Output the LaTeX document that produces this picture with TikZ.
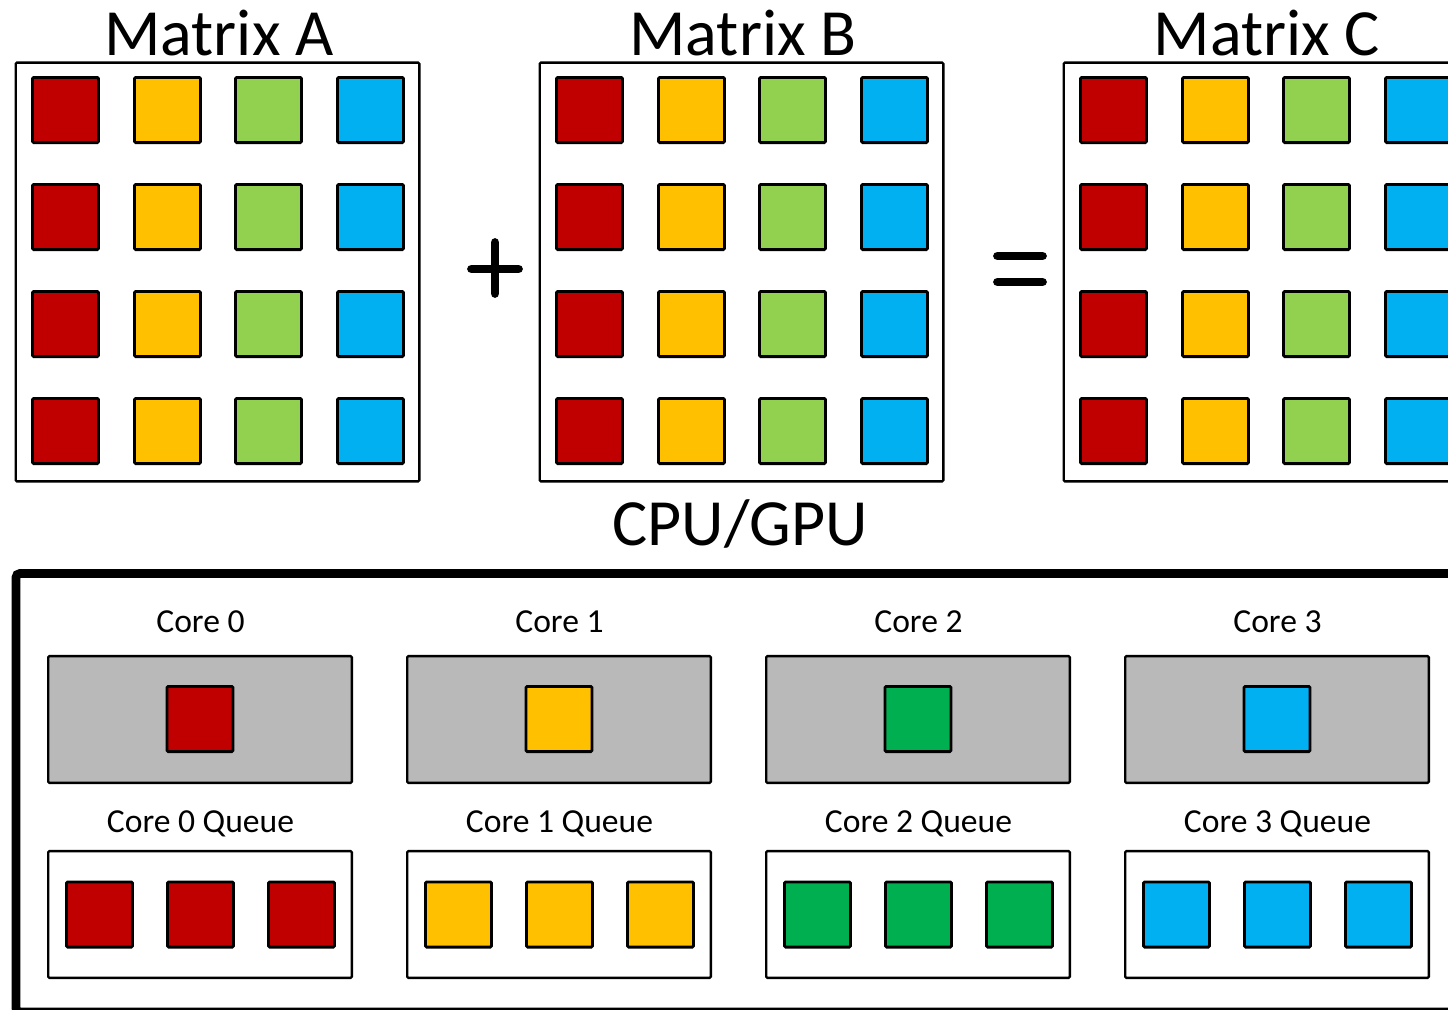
\documentclass[tikz,border=0pt]{standalone}
\usepackage{fontspec}
\setmainfont{Carlito}
\definecolor{cred}{HTML}{C00000}
\definecolor{cyellow}{HTML}{FFC000}
\definecolor{clime}{HTML}{92D050}
\definecolor{cblue}{HTML}{00B0F0}
\definecolor{cgreen}{HTML}{00B050}
\definecolor{cgray}{HTML}{B9B9B9}
\begin{document}
\begin{tikzpicture}[x=0.5pt,y=-0.5pt,
  cell/.style={draw=black, line width=1.4pt, minimum width=33pt, minimum height=32.6pt,
               inner sep=0pt, rounded corners=0.6pt},
  matframe/.style={draw=black, line width=1.2pt, minimum width=201.8pt, minimum height=209.4pt,
                   inner sep=0pt, rounded corners=0.6pt},
  corebox/.style={draw=black, line width=1.2pt, fill=cgray, minimum width=151.8pt, minimum height=63.4pt,
                  inner sep=0pt, rounded corners=0.6pt},
  queuebox/.style={draw=black, line width=1.2pt, fill=white, minimum width=151.8pt, minimum height=63.4pt,
                   inner sep=0pt, rounded corners=0.6pt},
  bigtitle/.style={font=\fontsize{33}{36}\selectfont, anchor=base, inner sep=0pt},
  corelabel/.style={font=\fontsize{16.8}{19}\selectfont, anchor=base, inner sep=0pt},
  opbar/.style={line width=4.4pt, line cap=round}
]
\useasboundingbox (0,0) rectangle (1448,1009);
\clip (0,0) rectangle (1448,1009);

% ---- the three matrices ----
\foreach \m/\off/\lab in {A/0/Matrix A, B/524/Matrix B, C/1048/Matrix C} {
  \node[matframe] (frame\m) at (217.5+\off,272) {};
  \node[bigtitle] (title\m) at (219+\off,55) {\lab};
  \foreach \r/\y in {1/110,2/217,3/324,4/431} {
    \foreach \c/\x/\col in {1/65.5/cred, 2/167.5/cyellow, 3/268.5/clime, 4/370.5/cblue} {
      \node[cell, fill=\col] (\m-\r-\c) at (\x+\off,\y) {};
    }
  }
}

% ---- plus and equals signs ----
\coordinate (plusL) at (471.5,269);
\coordinate (plusR) at (518.5,269);
\coordinate (plusT) at (495,242.5);
\coordinate (plusB) at (495,293.5);
\draw[opbar] (plusL) -- (plusR);
\draw[opbar] (plusT) -- (plusB);
\coordinate (eqAL) at (997.5,256);
\coordinate (eqAR) at (1042.5,256);
\coordinate (eqBL) at (997.5,282);
\coordinate (eqBR) at (1042.5,282);
\draw[opbar] (eqAL) -- (eqAR);
\draw[opbar] (eqBL) -- (eqBR);

% ---- processor ----
\node[bigtitle] (cpu) at (740,545) {CPU/GPU};
\draw[line width=4.4pt, rounded corners=2pt] (16,1012) -- (16,573.5) -- (1470,573.5) -- (1470,1012) -- cycle;

\foreach \k/\cx/\col in {0/200/cred, 1/559/cyellow, 2/918/cgreen, 3/1277/cblue} {
  \node[corelabel] (corelab\k) at (\cx+0.5,632) {Core \k};
  \node[corebox] (core\k) at (\cx,719.5) {};
  \node[cell, fill=\col] (task\k) at (\cx,719) {};
  \node[corelabel] (queuelab\k) at (\cx+0.5,832) {Core \k\ Queue};
  \node[queuebox] (queue\k) at (\cx,914.5) {};
  \node[cell, fill=\col] (q\k-1) at (\cx-100.5,914.5) {};
  \node[cell, fill=\col] (q\k-2) at (\cx+0.5,914.5) {};
  \node[cell, fill=\col] (q\k-3) at (\cx+101.5,914.5) {};
}
\end{tikzpicture}
\end{document}
